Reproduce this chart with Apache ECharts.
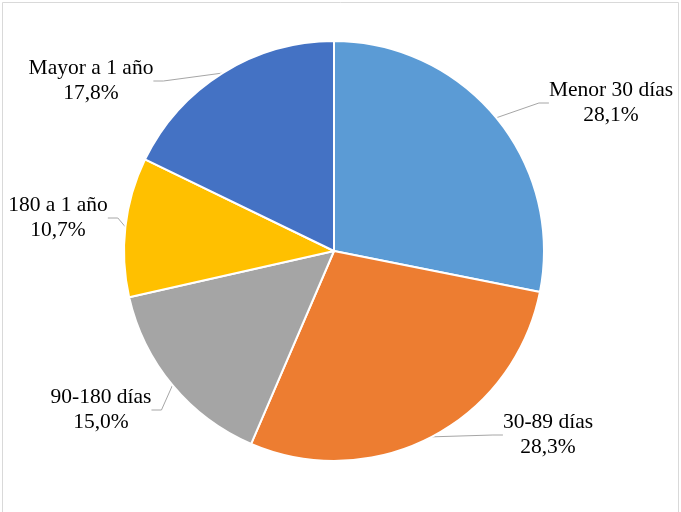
<!DOCTYPE html>
<html>
<head>
<meta charset="utf-8">
<script src="https://cdn.jsdelivr.net/npm/echarts@6/dist/echarts.min.js"></script>
<style>
  html, body { margin: 0; padding: 0; background: #fff; }
  #chart { width: 681px; height: 512px; }
</style>
</head>
<body>
<div id="chart"></div>
<script>
// Antigüedad de saldos: categorías, porcentajes y colores
const categories = ['Menor 30 días', '30-89 días', '90-180 días', '180 a 1 año', 'Mayor a 1 año'];
const shares = [28.1, 28.3, 15.0, 10.7, 17.8];
const sliceColors = ['#5B9BD5', '#ED7D31', '#A5A5A5', '#FFC000', '#4472C4'];

// Posiciones de las etiquetas (centro del bloque de texto)
const labelSpots = [[611, 103], [548, 435], [101, 410], [58, 218], [91, 81]];

const chart = echarts.init(document.getElementById('chart'), null, { renderer: 'canvas' });

chart.setOption({
  backgroundColor: '#ffffff',
  animation: false,
  graphic: [{
    type: 'rect',
    shape: { x: 2.5, y: 2.5, width: 676, height: 520 },
    style: { fill: 'none', stroke: '#d9d9d9', lineWidth: 1 },
    silent: true
  }],
  series: [{
    type: 'pie',
    center: [334, 251],
    radius: [0, 210],
    startAngle: 90,
    clockwise: true,
    avoidLabelOverlap: false,
    itemStyle: { borderColor: '#ffffff', borderWidth: 2 },
    label: {
      show: true,
      position: 'outside',
      fontFamily: 'Liberation Serif',
      fontSize: 21.5,
      lineHeight: 25,
      color: '#000000',
      align: 'center',
      formatter: p => p.name + '\n' + p.value.toFixed(1).replace('.', ',') + '%'
    },
    labelLine: {
      show: true,
      length: 10,
      length2: 10,
      lineStyle: { color: '#a6a6a6', width: 1 }
    },
    labelLayout: params => {
      const s = labelSpots[params.dataIndex];
      return { x: s[0], y: s[1], align: 'center', verticalAlign: 'middle' };
    },
    data: categories.map((c, i) => ({
      name: c,
      value: shares[i],
      itemStyle: { color: sliceColors[i] }
    }))
  }]
});
</script>
</body>
</html>
